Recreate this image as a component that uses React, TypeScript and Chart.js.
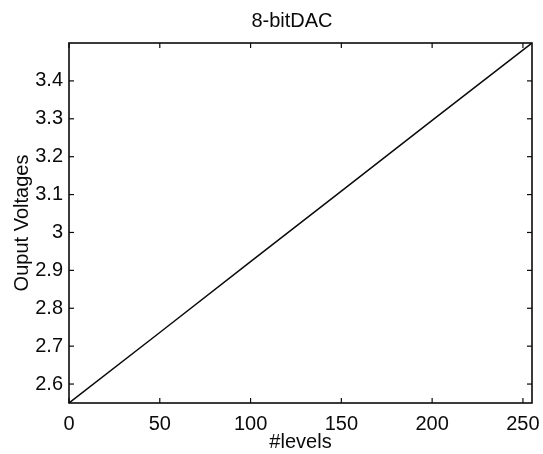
import React, { useEffect, useRef } from "react";
import { Chart, registerables } from "chart.js";

Chart.register(...registerables);

const TITLE = "8-bitDAC";
const X_LABEL = "#levels";
const Y_LABEL = "Ouput Voltages";

const LEVELS = [0, 50, 100, 150, 200, 255];
const VOLTAGES = [2.55, 2.736, 2.923, 3.109, 3.296, 3.5];

const X_TICKS = [0, 50, 100, 150, 200, 250];
const X_TICK_LABELS = ["0", "50", "100", "150", "200", "250"];
const Y_TICKS = [2.6, 2.7, 2.8, 2.9, 3.0, 3.1, 3.2, 3.3, 3.4];
const Y_TICK_LABELS = ["2.6", "2.7", "2.8", "2.9", "3", "3.1", "3.2", "3.3", "3.4"];

const X_MIN = 0;
const X_MAX = 255;
const Y_MIN = 2.55;
const Y_MAX = 3.5;

const FONT = '"Liberation Sans", Arial, sans-serif';
const INK = "#0a0a0a";

const boxTicks = {
  id: "boxTicks",
  afterDraw(chart: any) {
    const { ctx, chartArea, scales } = chart;
    const { left, right, top, bottom } = chartArea;
    const x = scales.x;
    const y = scales.y;
    ctx.save();
    ctx.strokeStyle = INK;
    ctx.lineWidth = 1.6;
    ctx.strokeRect(left, top, right - left, bottom - top);
    ctx.lineWidth = 1.2;
    const seg = (x1: number, y1: number, x2: number, y2: number) => {
      ctx.beginPath();
      ctx.moveTo(x1, y1);
      ctx.lineTo(x2, y2);
      ctx.stroke();
    };
    x.ticks.forEach((t: any) => {
      const px = x.getPixelForValue(t.value);
      seg(px, bottom, px, bottom - 5);
      seg(px, top, px, top + 5);
    });
    y.ticks.forEach((t: any) => {
      const py = y.getPixelForValue(t.value);
      seg(left, py, left + 5, py);
      seg(right, py, right - 5, py);
    });
    ctx.fillStyle = INK;
    ctx.font = `20px ${FONT}`;
    ctx.textAlign = "center";
    ctx.textBaseline = "middle";
    ctx.fillText(TITLE, (left + right) / 2 - 8.5, top / 2);
    ctx.restore();
  },
};

export default function App() {
  const ref = useRef<HTMLCanvasElement>(null);
  useEffect(() => {
    if (!ref.current) return;
    const chart = new Chart(ref.current, {
      type: "line",
      data: {
        datasets: [
          {
            data: LEVELS.map((lv, i) => ({ x: lv, y: VOLTAGES[i] })),
            borderColor: INK,
            borderWidth: 1.5,
            pointRadius: 0,
            tension: 0,
            fill: false,
          },
        ],
      },
      options: {
        responsive: false,
        animation: false,
        layout: { padding: { top: 43, right: 11, left: 0, bottom: 0 } },
        plugins: {
          legend: { display: false },
          title: { display: false },
          tooltip: { enabled: false },
        },
        scales: {
          x: {
            type: "linear",
            min: X_MIN,
            max: X_MAX,
            border: { display: false },
            grid: { display: false, drawTicks: false },
            afterBuildTicks: (s: any) => {
              s.ticks = X_TICKS.map((value) => ({ value }));
            },
            afterFit: (s: any) => {
              s.height = 51;
              s.paddingLeft = 0;
              s.paddingRight = 0;
            },
            ticks: {
              autoSkip: false,
              maxRotation: 0,
              padding: 9,
              color: INK,
              font: { size: 20, family: FONT },
              callback: (_v: any, i: number) => X_TICK_LABELS[i],
            },
            title: {
              display: true,
              text: X_LABEL,
              color: INK,
              font: { size: 20, family: FONT },
              padding: { top: 0, bottom: 0 },
            },
          },
          y: {
            type: "linear",
            min: Y_MIN,
            max: Y_MAX,
            border: { display: false },
            grid: { display: false, drawTicks: false },
            afterBuildTicks: (s: any) => {
              s.ticks = Y_TICKS.map((value) => ({ value }));
            },
            afterFit: (s: any) => {
              s.width = 69;
              s.paddingTop = 0;
              s.paddingBottom = 0;
            },
            ticks: {
              autoSkip: false,
              padding: 6,
              color: INK,
              font: { size: 20, family: FONT },
              callback: (_v: any, i: number) => Y_TICK_LABELS[i],
            },
            title: {
              display: true,
              text: Y_LABEL,
              color: INK,
              font: { size: 20, family: FONT },
              padding: { top: 10, bottom: 0 },
            },
          },
        },
      },
      plugins: [boxTicks],
    });
    return () => chart.destroy();
  }, []);
  return (
    <div style={{ position: "fixed", left: 0, top: 0, width: 543, height: 454, background: "#fff" }}>
      <canvas ref={ref} width={543} height={454} />
    </div>
  );
}
